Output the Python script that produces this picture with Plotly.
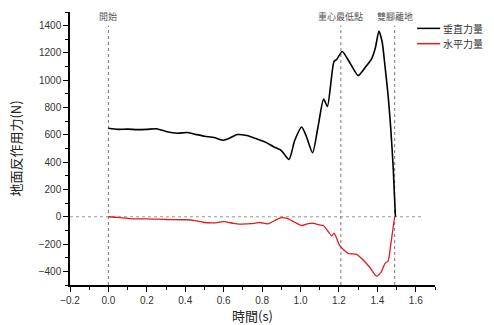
import plotly.graph_objects as go

# Vertical force (black)
t_vert = [0.0, 0.05, 0.1, 0.15, 0.2, 0.25, 0.3, 0.36, 0.41, 0.45, 0.5, 0.55, 0.6, 0.63, 0.67,
          0.72, 0.77, 0.82, 0.86, 0.9, 0.94, 0.97, 1.006, 1.03, 1.063, 1.09, 1.12, 1.14, 1.174,
          1.188, 1.217, 1.26, 1.30, 1.34, 1.37, 1.39, 1.408, 1.425, 1.44, 1.456, 1.47, 1.482, 1.494]
f_vert = [648, 640, 642, 638, 640, 645, 625, 612, 617, 605, 590, 580, 560, 575, 602,
          595, 572, 545, 513, 485, 420, 560, 658, 590, 469, 650, 862, 808, 1137,
          1152, 1211, 1120, 1034, 1100, 1157, 1240, 1361, 1280, 1100, 887, 640, 371, 0]

# Horizontal force (red)
t_horiz = [0.0, 0.05, 0.12, 0.2, 0.3, 0.4, 0.45, 0.5, 0.55, 0.6, 0.65, 0.68, 0.72, 0.76, 0.79,
           0.83, 0.87, 0.9, 0.93, 0.97, 1.006, 1.04, 1.067, 1.1, 1.12, 1.145, 1.162, 1.175,
           1.205, 1.248, 1.292, 1.326, 1.36, 1.395, 1.42, 1.44, 1.456, 1.47, 1.49]
f_horiz = [0, -5, -15, -15, -20, -22, -28, -42, -45, -35, -48, -54, -52, -48, -42,
           -52, -25, -7, -12, -40, -64, -50, -49, -60, -66, -110, -140, -120,
           -214, -268, -275, -317, -370, -435, -403, -341, -324, -200, 0]

event_times = [0.0, 1.21, 1.49]
event_labels = ["開始", "重心最低點", "雙腳離地"]
series_names = ["垂直力量", "水平力量"]
series_colors = ["black", "#e8191b"]

x_title = "時間(s)"
y_title = "地面反作用力(N)"

fig = go.Figure()
fig.add_trace(go.Scatter(x=t_vert, y=f_vert, mode="lines", name=series_names[0],
                         line=dict(color=series_colors[0], width=1.6, shape="spline", smoothing=0.6)))
fig.add_trace(go.Scatter(x=t_horiz, y=f_horiz, mode="lines", name=series_names[1],
                         line=dict(color=series_colors[1], width=1.3, shape="spline", smoothing=0.6)))

# zero reference line
fig.add_shape(type="line", xref="x", yref="y", x0=-0.2, x1=1.63, y0=0, y1=0,
              line=dict(color="#999999", width=1, dash="dot"), layer="below")

for t, lab in zip(event_times, event_labels):
    fig.add_shape(type="line", xref="x", yref="y", x0=t, x1=t, y0=-500, y1=1400,
                  line=dict(color="#777777", width=1, dash="dot"), layer="below")
    fig.add_annotation(x=t, y=1470, xref="x", yref="y", text=lab, showarrow=False,
                       font=dict(size=9, color="#555555", family="Noto Sans CJK TC"))

# legend drawn in paper coordinates (top right)
for i, (nm, col) in enumerate(zip(series_names, series_colors)):
    ly = 0.94 - i * 0.056
    fig.add_shape(type="line", xref="paper", yref="paper", x0=0.951, x1=1.014, y0=ly, y1=ly,
                  line=dict(color=col, width=1.5))
    fig.add_annotation(x=1.02, y=ly, xref="paper", yref="paper", text=nm, showarrow=False,
                       xanchor="left", yanchor="middle", borderpad=0,
                       font=dict(size=10, color="#333333", family="Noto Sans CJK TC"))

axis_common = dict(showline=True, linecolor="black", linewidth=1.5, ticks="outside",
                   ticklen=5, tickwidth=1.2, tickcolor="black", showgrid=False, zeroline=False,
                   tickfont=dict(size=10, color="#333333", family="Arial"),
                   mirror=False, automargin=False)

fig.update_xaxes(range=[-0.2, 1.7], dtick=0.2, tick0=-0.2, tickformat=".1f",
                 minor=dict(ticks="outside", ticklen=3, tickcolor="black", dtick=0.1, tick0=-0.2),
                 title=dict(text=x_title, font=dict(size=13, family="Noto Sans CJK TC", color="#222222"),
                            standoff=4),
                 **axis_common)
fig.update_yaxes(range=[-500, 1500], dtick=200, tick0=-400,
                 minor=dict(ticks="outside", ticklen=3, tickcolor="black", dtick=100),
                 title=dict(text=y_title, font=dict(size=13, family="Noto Sans CJK TC", color="#222222"),
                            standoff=14),
                 **axis_common)

fig.update_layout(
    width=494, height=325,
    margin=dict(l=70, r=59, t=12, b=40),
    plot_bgcolor="white", paper_bgcolor="white",
    showlegend=False,
)

fig.write_html("out.html")
